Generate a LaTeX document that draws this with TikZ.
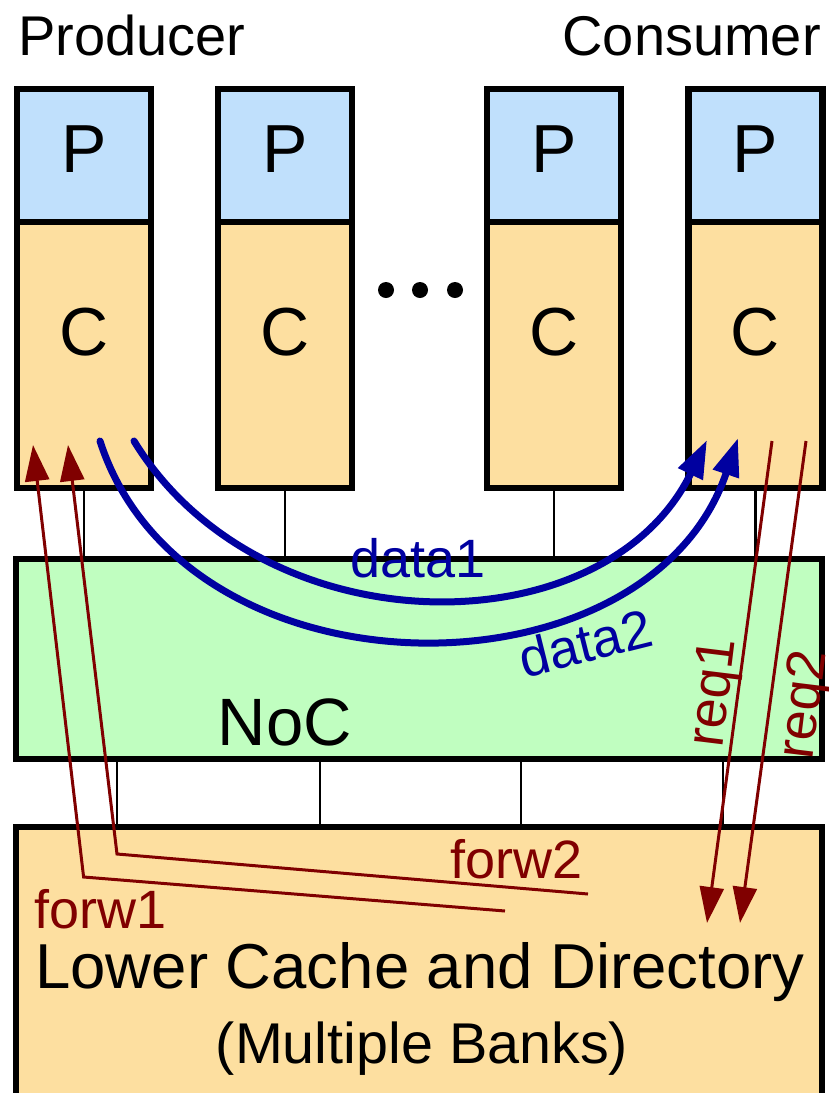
\documentclass[tikz,border=0pt]{standalone}
\usepackage{fontspec}
\setmainfont{Liberation Sans}
\usetikzlibrary{arrows.meta}
\definecolor{pblue}{HTML}{C0E0FC}
\definecolor{corange}{HTML}{FDDFA0}
\definecolor{nocgreen}{HTML}{C0FEC0}
\definecolor{dblue}{HTML}{0000A0}
\definecolor{dred}{HTML}{800000}
\tikzset{
  fs/.style={font=\fontsize{#1}{#1}\selectfont},
  pbox/.style={draw, line width=6.5pt, fill=pblue, minimum width=134pt, minimum height=133pt, inner sep=0pt},
  cbox/.style={draw, line width=6.5pt, fill=corange, minimum width=134pt, minimum height=266pt, inner sep=0pt},
  txt/.style={inner sep=0pt},
  link/.style={line width=2.2pt},
  dataarrow/.style={dblue, line width=7pt, line cap=round, -{Triangle[length=38pt,width=26pt]}},
  redarrow/.style={dred, line width=3pt, -{Triangle[length=36pt,width=24pt]}},
  bluelbl/.style={txt, text=dblue, fs=54},
  redlbl/.style={txt, text=dred, fs=54},
}
\begin{document}
\begin{tikzpicture}[x=1pt,y=-1pt]
\useasboundingbox (0,0) rectangle (828,1093);
\fill[white] (0,0) rectangle (828,1093);

% headings
\node[txt, fs=56, anchor=base west] (prod) at (18,55) {Producer};
\node[txt, fs=56, anchor=base east] (cons) at (821,55) {Consumer};

% cores
\foreach \i/\x in {1/84,2/285,3/554,4/755.5}{
  \node[cbox] (c\i) at (\x,355) {};
  \node[pbox] (p\i) at (\x,155.5) {};
  \node[txt, fs=68, anchor=base] (pt\i) at (\x,172) {P};
  \node[txt, fs=68, anchor=base] (ct\i) at (\x,355) {C};
}
% dots
\foreach \j/\x in {1/386,2/420,3/455}{
  \fill (\x,290) circle (8pt) coordinate (dot\j);
}

% NoC
\node[draw, line width=6.5pt, fill=nocgreen, minimum width=806pt, minimum height=200pt, inner sep=0pt] (noc) at (419,659) {};
\node[txt, fs=67, anchor=base] (noct) at (285,745) {NoC};

% lower cache
\coordinate (lc) at (419,827);
\fill[corange] (16,827) rectangle (822,1100);
\draw[line width=6.5pt] (16,1100) -- (16,827) -- (822,827) -- (822,1100);
\node[txt, fs=63.5, anchor=base] (lct1) at (420,988) {Lower Cache and Directory};
\node[txt, fs=57.5, anchor=base] (lct2) at (422,1063) {(Multiple Banks)};

% links core -> NoC
\foreach \i in {1,2,3,4}{
  \draw[link] (c\i.south) -- (c\i.south |- noc.north);
}
% links NoC -> lower cache
\foreach \x in {117,320,521,723}{
  \draw[link] (noc.south -| \x,0) -- (lc -| \x,0);
}

% data arrows
\coordinate (d1s) at (134,441);
\coordinate (d1e) at (707,440);
\coordinate (d2s) at (100,441);
\coordinate (d2e) at (738,438);
\draw[dataarrow] (d1s) .. controls (262,650) and (605,650) .. (d1e);
\draw[dataarrow] (d2s) .. controls (185,705) and (648,705) .. (d2e);
\node[bluelbl, anchor=base] (data1) at (418,577) {data1};
\node[bluelbl, rotate=14] (data2) at (585,643) {data2};

% req arrows
\coordinate (r1s) at (772,441);
\coordinate (r1e) at (707,923);
\coordinate (r2s) at (806,441);
\coordinate (r2e) at (740,923);
\draw[redarrow] (r1s) -- (r1e);
\draw[redarrow] (r2s) -- (r2e);
\node[redlbl, rotate=83] (req1) at (716,693) {req1};
\node[redlbl, rotate=83] (req2) at (806,705) {req2};

% forward arrows
\coordinate (f1s) at (505,911);
\coordinate (f1c) at (83.6,877);
\coordinate (f1e) at (33,445);
\coordinate (f2s) at (588,894);
\coordinate (f2c) at (117,854);
\coordinate (f2e) at (68,445);
\draw[redarrow] (f1s) -- (f1c) -- (f1e);
\draw[redarrow] (f2s) -- (f2c) -- (f2e);
\node[redlbl, anchor=base west] (forw1) at (34,928) {forw1};
\node[redlbl, anchor=base west] (forw2) at (450,878) {forw2};
\end{tikzpicture}
\end{document}
